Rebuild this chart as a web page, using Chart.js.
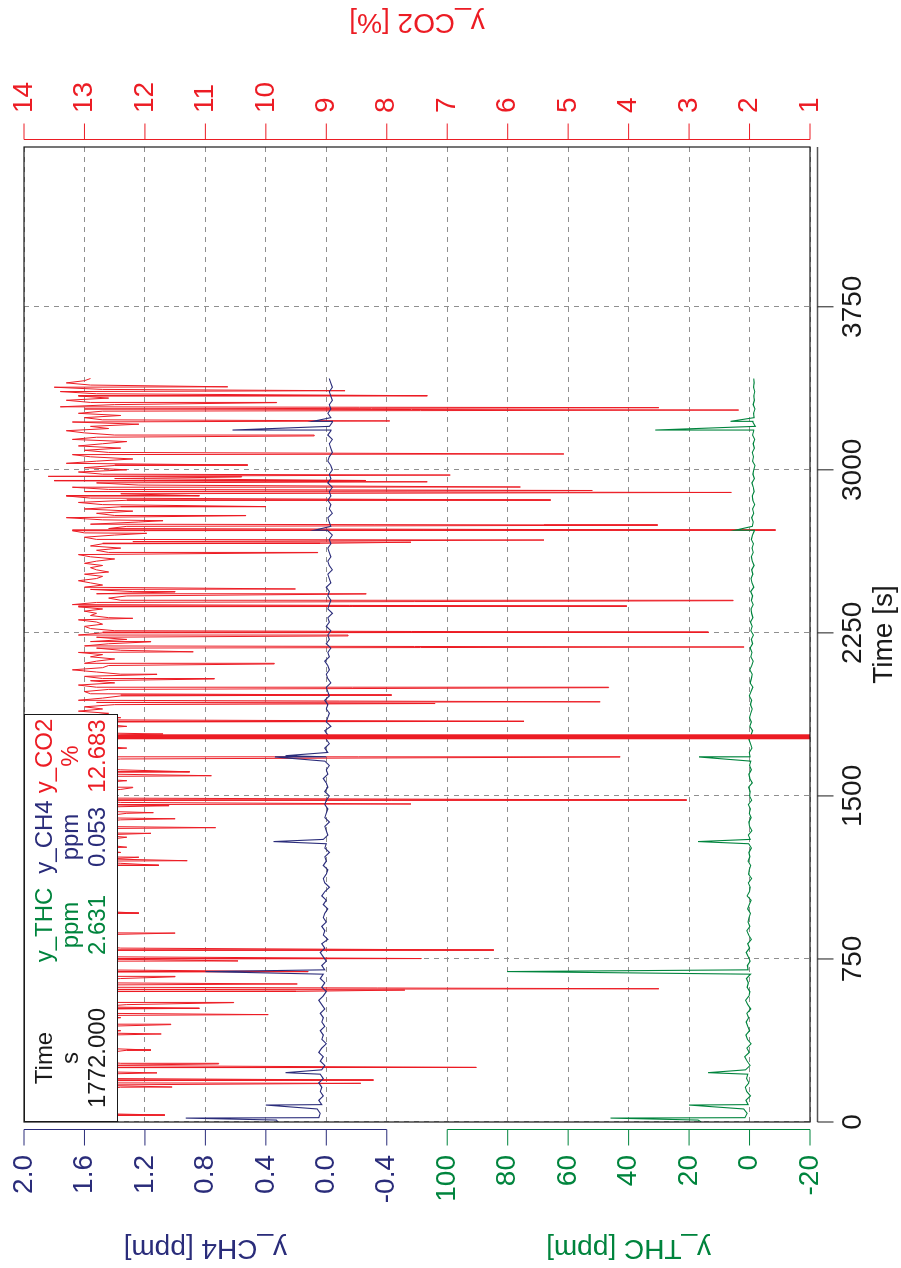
<!DOCTYPE html>
<html>
<head>
<meta charset="utf-8">
<script src="https://cdn.jsdelivr.net/npm/chart.js@4.4.1/dist/chart.umd.min.js"></script>
<style>
  html, body { margin: 0; padding: 0; background: #fff; }
  body { width: 901px; height: 1268px; overflow: hidden; position: relative; }
  /* the plot is laid out landscape and turned a quarter turn to the left */
  #wrap { position: absolute; left: 0; top: 0; width: 1268px; height: 901px;
          transform-origin: 0 0; transform: translateY(1268px) rotate(-90deg); }
</style>
</head>
<body>
<div id="wrap"><canvas id="chart" width="1268" height="901"></canvas></div>
<script>
// CO2 [%], one sample every CO2_STEP seconds from t = 0
const CO2_STEP = 10;
const co2Base = [
  12.9, 13.1, 12.8, 12.6, 13.0, 12.7, 12.9, 13.2, 12.8, 12.5, 13.0, 12.7, 12.9, 12.6, 13.1,
  12.8, 12.4, 13.0, 12.7, 12.9, 12.6, 13.1, 12.8, 12.5, 12.9, 12.7, 13.0, 12.4, 12.8, 13.0,
  12.7, 12.9, 12.6, 12.3, 12.8, 13.0, 12.7, 12.5, 12.9, 13.1, 12.6, 12.8, 12.4, 12.9, 12.7,
  13.0, 12.6, 12.8, 12.4, 12.9, 12.7, 13.1, 12.5, 12.8, 12.3, 12.9, 12.7, 13.0, 12.6, 12.8,
  12.9, 12.5, 12.8, 13.0, 12.6, 12.9, 12.4, 12.8, 13.1, 12.7, 12.9, 12.6, 12.8, 13.0, 12.5,
  12.8, 12.6, 13.0, 12.7, 12.9, 12.4, 12.8, 13.1, 12.6, 12.9, 12.7, 13.0, 12.5, 12.8, 12.9,
  12.7, 13.0, 12.8, 12.6, 12.9, 12.7, 13.1, 12.8, 12.6, 12.9, 12.7, 13.0, 12.8, 12.6, 12.9,
  12.8, 13.0, 12.7, 12.9, 12.6, 12.8, 13.1, 12.7, 12.9, 12.6, 12.8, 13.0, 12.5, 12.8, 12.4,
  12.9, 12.6, 12.8, 13.0, 12.4, 12.7, 12.9, 12.5, 12.8, 13.0, 12.6, 12.3, 12.8, 12.9, 12.6,
  12.7, 13.0, 12.5, 12.8, 12.4, 12.9, 12.6, 12.3, 12.8, 13.0, 12.5, 12.9, 12.4, 12.8, 12.6,
  12.9, 12.5, 12.8, 12.4, 13.0, 12.6, 12.8, 12.3, 12.9, 12.6, 12.5, 12.8, 12.4, 12.9, 12.7,
  12.6, 12.9, 12.4, 12.8, 12.5, 12.7, 12.9, 12.3, 12.8, 12.6, 12.5, 12.9, 12.6, 12.4, 12.8,
  12.5, 12.9, 12.3, 12.7, 12.6, 12.8, 12.4,
  12.9, 12.6, 13.1, 12.7, 13.0, 12.5, 12.8, 13.1, 12.7, 12.4, 12.9, 13.0, 12.6,
  12.8, 13.1, 12.5, 12.9, 12.7, 13.0, 12.4, 12.8, 13.2, 12.7, 12.6, 13.0, 12.8, 12.5,
  12.9, 12.7, 13.1, 12.4, 12.8, 13.0, 12.6, 12.9, 12.3, 12.8, 13.1, 12.7, 12.5, 12.9,
  13.0, 12.7, 12.8, 13.1, 12.6, 12.9, 12.8, 13.0, 12.7, 13.1, 13.2, 12.8, 12.4, 12.6,
  12.3, 12.8, 12.2, 12.9, 13.0, 12.7, 12.9, 13.1, 12.8, 12.7, 13.0, 12.6, 12.8, 12.9,
  12.7, 13.0, 12.8, 12.5, 12.9, 13.1, 12.6, 12.8, 12.4, 12.9, 12.7, 12.2, 12.8, 13.0,
  12.5, 13.0, 13.2, 12.6, 12.3, 12.9, 12.1, 12.7, 13.3, 12.5, 12.8, 12.2, 13.0, 12.4,
  12.7, 13.1, 12.3, 12.9, 13.3, 12.4, 13.0, 12.6, 13.2, 12.1, 12.8, 13.5, 12.5, 13.6,
  12.7, 13.1, 12.3, 13.0, 12.5, 13.3, 12.8, 12.2, 12.9, 13.2, 12.6, 13.0, 12.4, 13.1,
  12.7, 12.3, 13.2, 12.8, 12.5, 13.0, 13.3, 12.6, 12.9, 12.1, 13.2, 12.7, 13.0, 12.4,
  13.1, 12.7, 13.0, 13.4, 12.5, 12.9, 13.3, 12.6, 13.1, 12.8, 13.4, 12.7, 13.5, 12.9,
  13.3, 13.0, 12.9
];
// single-sample dips of the CO2 signal
const co2SpikeTime = [
  32, 161, 178, 193, 226, 251, 267, 331, 405, 448, 494, 523, 549, 601, 607, 613, 635, 668,
  692, 741, 752, 791, 869, 961, 1181, 1202, 1218, 1264, 1328, 1354, 1395, 1423, 1455, 1463,
  1481, 1538, 1593, 1611, 1679, 1785, 1843, 1925, 1933, 1964, 1998, 2038, 2059, 2107, 2163,
  2185, 2209, 2236, 2253, 2317, 2373, 2398, 2429, 2438, 2452, 2619, 2662, 2667, 2677, 2708,
  2723, 2744, 2746, 2766, 2789, 2831, 2861, 2881, 2896, 2905, 2921, 2945, 2951, 2967, 2976,
  3022, 3073, 3156, 3225, 3275, 3286, 3309, 3341, 3364, 3382
];
const co2SpikeValue = [
  11.67, 11.55, 8.43, 8.22, 11.8, 6.52, 10.78, 11.9, 11.73, 11.57, 9.96, 11.1, 10.53, 9.5, 7.7, 3.5, 9.48, 11.5,
  9.3, 10.46, 7.43, 6.23, 11.5, 12.1, 11.77, 11.3, 12.1, 12.3, 11.9, 10.83, 11.5, 11.86, 11.6, 7.6,
  3.04, 12.2, 10.9, 11.26, 4.14, 11.7, 5.73, 7.2, 4.47, 7.92, 4.33, 10.85, 11.8, 9.86, 11.2,
  2.09, 11.9, 8.64, 2.68, 12.2, 4.03, 2.27, 8.34, 11.5, 9.51, 9.14, 9.1, 7.6, 5.4, 11.97,
  1.57, 5.4, 3.52, 11.7, 10.33, 10.0, 5.29, 11.1, 2.3, 4.6, 5.79, 7.33, 8.35, 10.4, 6.95,
  10.3, 5.07, 9.2, 7.95, 2.18, 3.5, 9.82, 7.33, 8.69, 10.63
];

// CH4 and THC [ppm], one sample every GAS_STEP seconds from t = 0
const GAS_STEP = 20;
const ch4Base = [
  0.32, 0.05, 0.04, 0.06, 0.03, 0.05, 0.02, 0.04, 0.03, 0.05, 0.02, 0.04,
  0.03, 0.01, 0.04, 0.02, 0.05, 0.03, 0.00, 0.03, 0.02, 0.04, 0.01, 0.03,
  0.02, 0.04, 0.01, 0.03, 0.05, 0.02, 0.00, 0.03, 0.01, 0.04, 0.02, 0.01,
  0.03, 0.00, 0.02, 0.04, 0.01, 0.03, -0.01, 0.02, 0.01, 0.03, 0.00, 0.02,
  0.01, -0.01, 0.02, 0.00, 0.03, 0.01, -0.02, 0.01, 0.02, 0.00, -0.01, 0.02,
  0.00, 0.01, -0.02, 0.01, 0.00, 0.02, -0.01, 0.00, 0.01, -0.02, 0.01, 0.00,
  -0.01, 0.01, 0.00, -0.02, 0.01, -0.01, 0.00, 0.02, -0.01, 0.00, -0.02, 0.01,
  0.00, -0.01, 0.01, -0.02, 0.00, -0.01, 0.01, -0.03, 0.00, -0.01, -0.02, 0.00,
  -0.01, 0.01, -0.02, -0.01, 0.00, -0.03, -0.01, 0.00, -0.02, -0.01, 0.01, -0.02,
  -0.01, -0.03, 0.00, -0.02, -0.01, -0.03, 0.00, -0.02, -0.01, -0.04, -0.01, -0.02,
  -0.03, -0.01, -0.02, 0.00, -0.03, -0.02, -0.01, -0.04, -0.02, -0.01, -0.03, -0.02,
  -0.01, -0.03, -0.02, -0.04, -0.01, -0.03, -0.02, -0.01, -0.04, -0.02, -0.03, -0.01,
  -0.03, -0.02, -0.04, -0.01, -0.03, -0.02, -0.04, -0.03, -0.01, -0.02, -0.04, -0.03,
  -0.02, -0.04, -0.01, -0.03, -0.02, -0.04, -0.03, -0.01, -0.03, -0.02, -0.04, -0.03,
  -0.02, -0.04, -0.03, -0.02
];
const ch4SpikeTime = [9, 18, 78, 227, 692, 1290, 1679, 1685, 2722, 3183, 3223];
const ch4SpikeValue = [0.33, 0.93, 0.40, 0.27, 0.80, 0.35, 0.34, 0.27, 0.08, 0.62, 0.09];

const thcBase = [
  16, 1.5, 0.8, 1.9, 0.5, 1.2, -0.3, 0.9, 1.4, 0.2, 1.0, 0.6,
  1.3, -0.2, 0.8, 1.6, 0.1, 0.9, -0.5, 0.7, 1.2, 0.0, 0.6, 1.1,
  0.3, 0.9, -0.4, 0.6, 1.3, 0.2, -0.1, 0.8, 0.4, 1.0, -0.3, 0.5,
  0.7, -0.2, 0.4, 1.1, 0.0, 0.6, -0.6, 0.3, 0.9, -0.1, 0.5, 0.2,
  -0.3, 0.6, 0.1, -0.5, 0.8, 0.0, -0.2, 0.4, -0.7, 0.3, 0.1, -0.4,
  0.5, -0.1, 0.2, -0.6, 0.3, -0.2, 0.4, -0.8, 0.0, 0.2, -0.5, 0.1,
  -0.3, 0.4, -0.7, 0.0, -0.2, 0.3, -0.9, -0.1, 0.2, -0.6, 0.0, -0.4,
  -0.2, 0.1, -0.8, -0.3, 0.2, -0.5, -1.0, -0.1, -0.6, 0.0, -0.4, -0.9,
  -0.3, -0.7, 0.1, -0.5, -1.1, -0.2, -0.6, -0.9, -0.1, -0.7, -1.2, -0.4,
  -0.8, -0.2, -1.0, -0.6, -1.3, -0.4, -0.9, -0.3, -1.1, -0.7, -0.5, -1.2,
  -0.6, -1.0, -0.4, -1.4, -0.8, -0.5, -1.1, -0.7, -1.5, -0.9, -0.6, -1.2,
  -0.8, -1.3, -0.6, -1.0, -1.6, -0.9, -1.2, -0.7, -1.4, -1.0, -1.7, -1.1,
  -0.9, -1.5, -1.2, -0.8, -1.6, -1.1, -1.4, -1.8, -1.0, -1.3, -0.9, -1.6,
  -1.2, -1.7, -1.0, -1.4, -1.9, -1.1, -1.5, -1.3, -1.8, -1.2, -1.6, -1.4,
  -1.7, -1.3, -1.5, -1.4
];
const thcSpikeTime = [9, 18, 78, 227, 692, 1290, 1679, 2722, 3183, 3223];
const thcSpikeValue = [17, 46, 20, 13.7, 80.2, 17, 16.7, 4.8, 31.2, 6.3];

// axis ticks
const timeTicks = [0, 750, 1500, 2250, 3000, 3750];
const co2Ticks = [1, 2, 3, 4, 5, 6, 7, 8, 9, 10, 11, 12, 13, 14];
const ch4Ticks = [-0.4, 0.0, 0.4, 0.8, 1.2, 1.6, 2.0];
const thcTicks = [-20, 0, 20, 40, 60, 80, 100];

// cursor readout
const cursorTime = 1772;
const readoutNames = ['Time', 'y_THC', 'y_CH4', 'y_CO2'];
const readoutUnits = ['s', 'ppm', 'ppm', '%'];
const readoutValues = ['1772.000', '2.631', '0.053', '12.683'];

const RED = '#ec1c24';
const NAVY = '#2a2c7a';
const GREEN = '#00843d';
const INK = '#1a1a1a';
const FONT = "'Liberation Sans', Arial, Helvetica, sans-serif";

Chart.defaults.font.family = FONT;

function toPoints(step, base, spikeT, spikeV) {
  const pts = base.map((v, i) => ({ x: i * step, y: v }));
  spikeT.forEach((t, k) => pts.push({ x: t, y: spikeV[k] }));
  return pts.sort((a, b) => a.x - b.x);
}

function seg(ctx, x1, y1, x2, y2) {
  ctx.beginPath(); ctx.moveTo(x1, y1); ctx.lineTo(x2, y2); ctx.stroke();
}

// left axis: each gas gets its own piece of the line, only over its ticks
function leftAxis(ctx, a, scale, ticks, color, fmt, title) {
  const x = a.left - 7.5;
  const yTop = scale.getPixelForValue(ticks[ticks.length - 1]);
  const yBot = scale.getPixelForValue(ticks[0]);
  ctx.strokeStyle = color; ctx.fillStyle = color; ctx.lineWidth = 1;
  seg(ctx, x, yTop, x, yBot);
  ctx.font = '28px ' + FONT; ctx.textAlign = 'right'; ctx.textBaseline = 'middle';
  ticks.forEach(v => {
    const y = scale.getPixelForValue(v);
    seg(ctx, x, y, x - 16, y);
    ctx.fillText(fmt(v), a.left - 33, y);
  });
  ctx.save();
  ctx.translate(20, (yTop + yBot) / 2);
  ctx.rotate(-Math.PI / 2);
  ctx.textAlign = 'center';
  ctx.fillText(title, 0, 0);
  ctx.restore();
}

const overlay = {
  id: 'overlay',
  afterDatasetsDraw(chart) {
    const { ctx, chartArea: a, scales } = chart;
    ctx.save();
    const cx = scales.x.getPixelForValue(cursorTime);
    ctx.strokeStyle = RED; ctx.lineWidth = 5;
    seg(ctx, cx, a.top, cx, a.bottom);

    // readout box
    ctx.fillStyle = '#fff';
    ctx.fillRect(a.left, a.top, 407, 93);
    ctx.strokeStyle = INK; ctx.lineWidth = 1;
    ctx.strokeRect(a.left + 0.5, a.top + 0.5, 407, 93);
    const colX = [64, 197, 285, 366];
    const colColor = [INK, GREEN, NAVY, RED];
    ctx.font = '24px ' + FONT; ctx.textAlign = 'center'; ctx.textBaseline = 'alphabetic';
    readoutNames.forEach((name, i) => {
      ctx.fillStyle = colColor[i];
      ctx.fillText(name, a.left + colX[i], a.top + 28);
      ctx.fillText(readoutUnits[i], a.left + colX[i], a.top + 54);
      ctx.fillText(readoutValues[i], a.left + colX[i], a.top + 81);
    });

    // frame
    ctx.strokeStyle = INK; ctx.lineWidth = 1.2;
    ctx.strokeRect(a.left, a.top, a.right - a.left, a.bottom - a.top);
    ctx.restore();
  },
  afterDraw(chart) {
    const { ctx, chartArea: a, scales } = chart;
    ctx.save();
    leftAxis(ctx, a, scales.yCH4, ch4Ticks, NAVY, v => v.toFixed(1), 'y_CH4 [ppm]');
    leftAxis(ctx, a, scales.yTHC, thcTicks, GREEN, v => String(v), 'y_THC [ppm]');

    // CO2 axis, set off from the frame
    const rx = a.right + 7.5;
    ctx.strokeStyle = RED; ctx.lineWidth = 1;
    seg(ctx, rx, a.top, rx, a.bottom);
    co2Ticks.forEach(v => {
      const y = scales.yCO2.getPixelForValue(v);
      seg(ctx, rx, y, rx + 16, y);
    });
    ctx.fillStyle = RED;
    ctx.font = '28px ' + FONT; ctx.textAlign = 'center'; ctx.textBaseline = 'middle';
    ctx.save();
    ctx.translate(1246, (a.top + a.bottom) / 2);
    ctx.rotate(-Math.PI / 2);
    ctx.fillText('y_CO2 [%]', 0, 0);
    ctx.restore();

    // time axis
    const by = a.bottom + 7.5;
    ctx.strokeStyle = '#555'; ctx.lineWidth = 1.4;
    seg(ctx, a.left, by, a.right, by);
    ctx.strokeStyle = INK; ctx.lineWidth = 1;
    timeTicks.forEach(v => {
      const x = scales.x.getPixelForValue(v);
      seg(ctx, x, by, x, by + 16);
    });
    ctx.restore();
  }
};

new Chart(document.getElementById('chart'), {
  type: 'line',
  data: {
    datasets: [
      {
        label: 'y_THC',
        data: toPoints(GAS_STEP, thcBase, thcSpikeTime, thcSpikeValue),
        yAxisID: 'yTHC',
        borderColor: GREEN,
        borderWidth: 1.1,
        pointRadius: 0
      },
      {
        label: 'y_CH4',
        data: toPoints(GAS_STEP, ch4Base, ch4SpikeTime, ch4SpikeValue),
        yAxisID: 'yCH4',
        borderColor: NAVY,
        borderWidth: 1.1,
        pointRadius: 0
      },
      {
        label: 'y_CO2',
        data: toPoints(CO2_STEP, co2Base, co2SpikeTime, co2SpikeValue),
        yAxisID: 'yCO2',
        borderColor: RED,
        borderWidth: 1,
        pointRadius: 0
      }
    ]
  },
  options: {
    responsive: false,
    animation: false,
    devicePixelRatio: 1,
    layout: { padding: { left: 146, top: 24, right: 0, bottom: 0 } },
    plugins: { legend: { display: false }, tooltip: { enabled: false } },
    scales: {
      x: {
        type: 'linear',
        min: 0,
        max: 4485,
        afterBuildTicks: s => { s.ticks = timeTicks.map(v => ({ value: v })); },
        afterFit: s => { s.height = 91; s.paddingLeft = 0; s.paddingRight = 0; },
        ticks: { color: INK, font: { size: 28 }, padding: 26, maxRotation: 0, autoSkip: false,
                 callback: v => String(v) },
        grid: { color: '#8f8f8f', drawTicks: false },
        border: { display: false, dash: [5, 5] },
        title: { display: true, text: 'Time [s]', color: INK,
                 font: { size: 28, lineHeight: 1 }, padding: { top: 0, bottom: 3 } }
      },
      yCO2: {
        type: 'linear',
        position: 'right',
        min: 1,
        max: 14,
        afterBuildTicks: s => { s.ticks = co2Ticks.map(v => ({ value: v })); },
        afterFit: s => { s.width = 147; s.paddingTop = 0; s.paddingBottom = 0; },
        ticks: { color: RED, font: { size: 28 }, padding: 34 },
        grid: { color: '#8f8f8f', drawTicks: false },
        border: { display: false, dash: [5, 5] }
      },
      yCH4: { type: 'linear', display: false, min: -3.2, max: 2.0 },
      yTHC: { type: 'linear', display: false, min: -20, max: 240 }
    }
  },
  plugins: [overlay]
});
</script>
</body>
</html>
